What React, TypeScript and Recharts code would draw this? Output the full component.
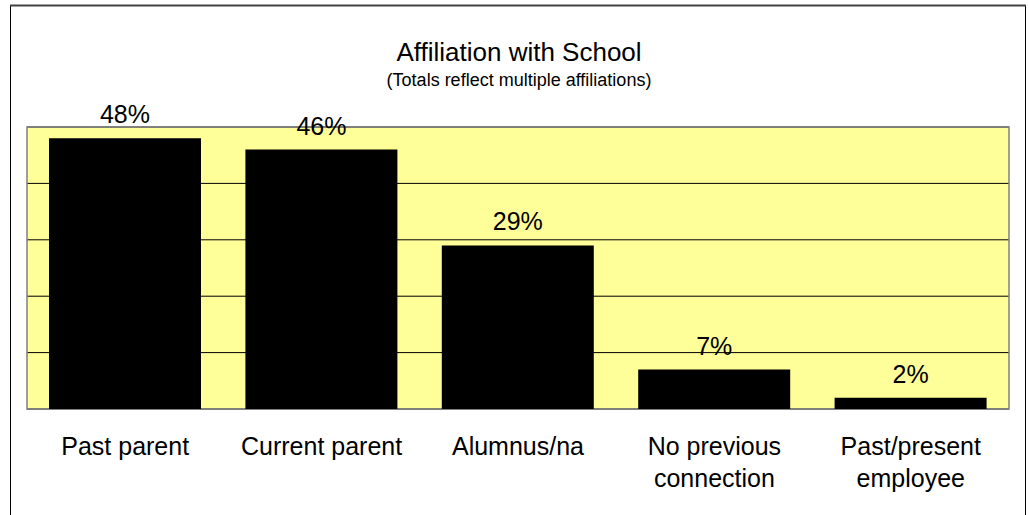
import React from "react";
import { BarChart, Bar, XAxis, YAxis, CartesianGrid, LabelList, ReferenceArea } from "recharts";

const categories = ["Past parent", "Current parent", "Alumnus/na", "No previous connection", "Past/present employee"];
const values = [48, 46, 29, 7, 2];
const tickLines = [["Past parent"], ["Current parent"], ["Alumnus/na"], ["No previous", "connection"], ["Past/present", "employee"]];
const yTicks = [0, 10, 20, 30, 40, 50];

const data = categories.map((c, i) => ({ name: c, value: values[i], lines: tickLines[i] }));

const FONT = "'Liberation Sans', Arial, sans-serif";

const CategoryTick = (props: any) => {
  const { x, y, index } = props;
  const lines = tickLines[index] || [String(props.payload?.value)];
  return (
    <g>
      {lines.map((ln: string, i: number) => (
        <text key={i} x={x} y={y} dy={46 + i * 31.5} textAnchor="middle" fontSize={25} fontFamily={FONT} fill="#000">
          {ln}
        </text>
      ))}
    </g>
  );
};

export default function App() {
  return (
    <div style={{ position: "absolute", left: 0, top: 0, width: 1029, height: 515, background: "#fff", overflow: "hidden" }}>
      <BarChart width={1029} height={515} data={data} margin={{ top: 127, right: 20, bottom: 0, left: 27 }}>
        <CartesianGrid vertical={false} fill="#FFFF99" stroke="#000" strokeOpacity={1} />
        <XAxis dataKey="name" axisLine={false} tickLine={false} tickSize={0} tickMargin={0} interval={0} tick={<CategoryTick />} height={106} />
        <YAxis hide domain={[0, 50]} ticks={yTicks} width={0} />
        <ReferenceArea y1={0} y2={50} fill="none" stroke="#808080" strokeWidth={1.5} ifOverflow="visible" />
        <Bar dataKey="value" fill="#000" barSize={152} isAnimationActive={false}>
          <LabelList dataKey="value" position="top" offset={15} formatter={(v: any) => `${v}%`} fontSize={25} fontFamily={FONT} fill="#000" />
        </Bar>
      </BarChart>
      <svg width={1029} height={515} style={{ position: "absolute", left: 0, top: 0, pointerEvents: "none" }}>
        <rect x={10.5} y={5.5} width={1015} height={530} fill="none" stroke="#000" strokeWidth={1} />
        <line x1={10} y1={5.5} x2={1026} y2={5.5} stroke="#404040" strokeWidth={2} />
        <text x={519} y={61} textAnchor="middle" fontSize={26} fontFamily={FONT} fill="#000">Affiliation with School</text>
        <text x={519} y={86} textAnchor="middle" fontSize={18} fontFamily={FONT} fill="#000">(Totals reflect multiple affiliations)</text>
      </svg>
    </div>
  );
}
